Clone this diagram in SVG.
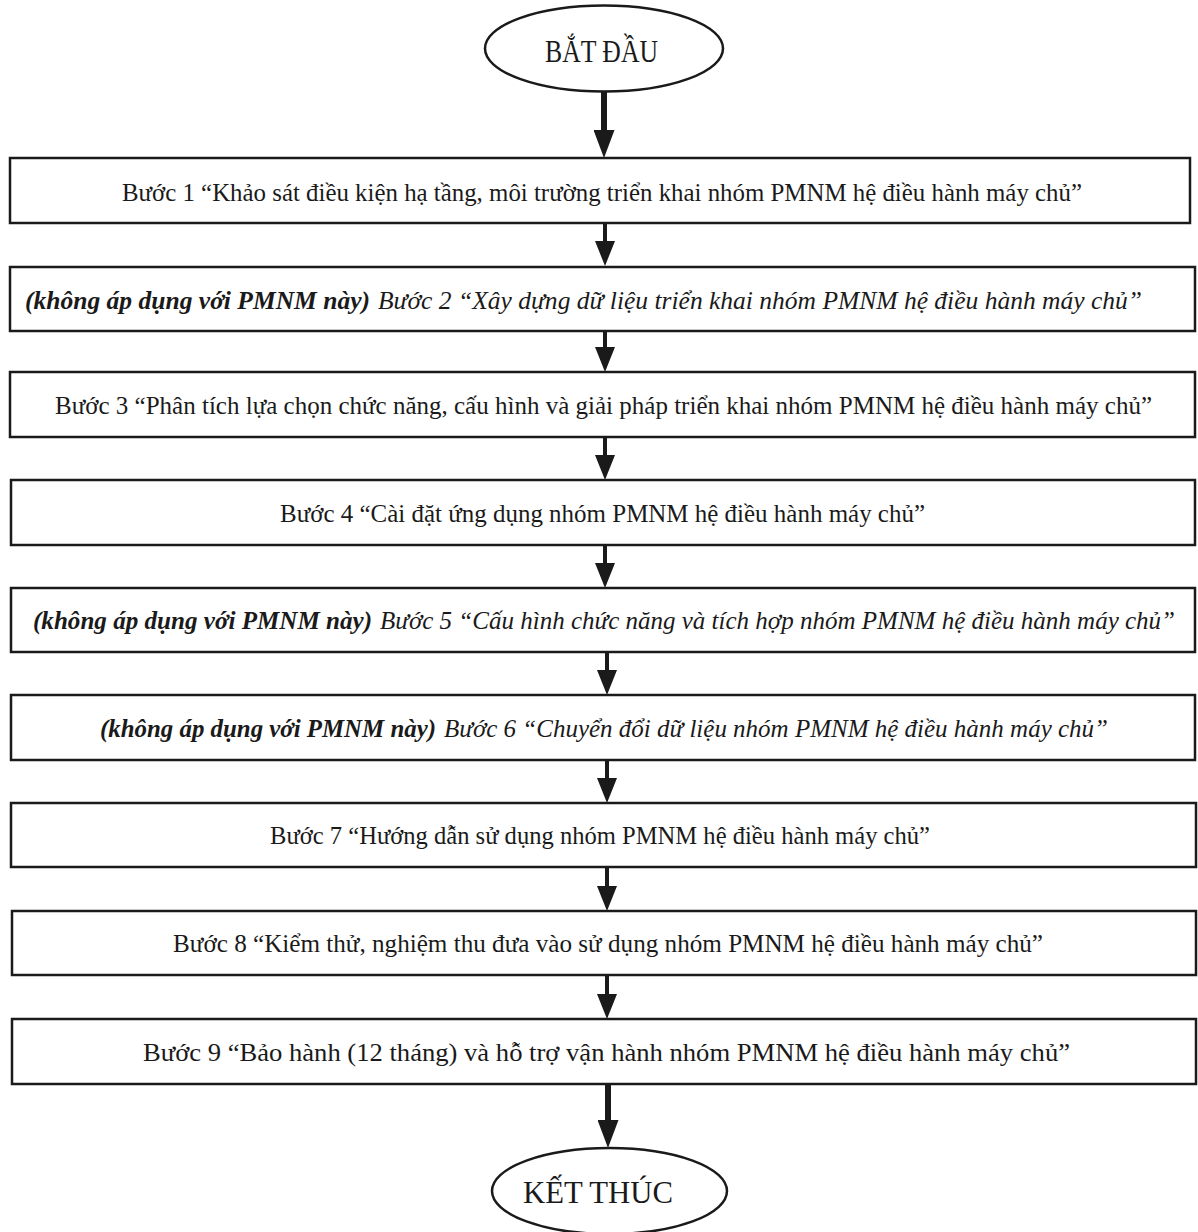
<svg xmlns="http://www.w3.org/2000/svg" width="1198" height="1232" viewBox="0 0 1198 1232">
  <style>
    .box { fill: #ffffff; stroke: #1a1a1a; stroke-width: 2.5; }
    .term { fill: #ffffff; stroke: #1a1a1a; stroke-width: 2.5; }
    .t { font-family: "Liberation Serif", "Times New Roman", serif; font-size: 26px; fill: #1a1a1a; }
    .ti { font-family: "Liberation Serif", "Times New Roman", serif; font-size: 26px; font-style: italic; fill: #1a1a1a; }
    .b { font-weight: bold; font-size: 25px; }
    .s25 { font-size: 25px; }
    .tt { font-family: "Liberation Serif", "Times New Roman", serif; font-size: 32px; fill: #1a1a1a; }
    .conn { stroke: #1a1a1a; stroke-width: 4; fill: none; }
    .connBig { stroke: #1a1a1a; stroke-width: 6; fill: none; }
  </style>
  <defs>
    <marker id="ah" viewBox="0 0 25 20" refX="0" refY="10" markerWidth="25" markerHeight="20" markerUnits="userSpaceOnUse" orient="auto">
      <path d="M0,0 L25,10 L0,20 Z" fill="#1a1a1a"/>
    </marker>
    <marker id="ahBig" viewBox="0 0 28 21" refX="0" refY="10.5" markerWidth="28" markerHeight="21" markerUnits="userSpaceOnUse" orient="auto">
      <path d="M0,0 L28,10.5 L0,21 Z" fill="#1a1a1a"/>
    </marker>
  </defs>

  <g id="connectors">
    <line class="connBig" x1="604" y1="92" x2="604" y2="130" marker-end="url(#ahBig)"/>
    <line class="conn" x1="605" y1="223" x2="605" y2="241" marker-end="url(#ah)"/>
    <line class="conn" x1="605" y1="331" x2="605" y2="347" marker-end="url(#ah)"/>
    <line class="conn" x1="605" y1="437" x2="605" y2="455" marker-end="url(#ah)"/>
    <line class="conn" x1="605" y1="545" x2="605" y2="563" marker-end="url(#ah)"/>
    <line class="conn" x1="607" y1="652" x2="607" y2="670" marker-end="url(#ah)"/>
    <line class="conn" x1="607" y1="760" x2="607" y2="778" marker-end="url(#ah)"/>
    <line class="conn" x1="607" y1="867" x2="607" y2="886" marker-end="url(#ah)"/>
    <line class="conn" x1="607" y1="975" x2="607" y2="994" marker-end="url(#ah)"/>
    <line class="connBig" x1="608" y1="1084" x2="608" y2="1120" marker-end="url(#ahBig)"/>
  </g>

  <g id="start">
    <ellipse class="term" cx="604" cy="48.5" rx="119" ry="43"/>
    <text class="tt" x="545" y="62" textLength="113" lengthAdjust="spacingAndGlyphs">BẮT ĐẦU</text>
  </g>

  <g id="step1">
    <rect class="box" x="10" y="158" width="1180" height="65"/>
    <text class="t" x="122" y="201" textLength="960" lengthAdjust="spacingAndGlyphs">Bước 1 “Khảo sát điều kiện hạ tầng, môi trường triển khai nhóm PMNM hệ điều hành máy chủ”</text>
  </g>

  <g id="step2">
    <rect class="box" x="10" y="267" width="1185" height="64"/>
    <text class="ti b" x="25" y="309" textLength="345" lengthAdjust="spacingAndGlyphs">(không áp dụng với PMNM này)</text>
    <text class="ti" x="378" y="309" textLength="764" lengthAdjust="spacingAndGlyphs">Bước 2 “Xây dựng dữ liệu triển khai nhóm PMNM hệ điều hành máy chủ”</text>
  </g>

  <g id="step3">
    <rect class="box" x="10" y="372" width="1185" height="65"/>
    <text class="t" x="55" y="414" textLength="1097" lengthAdjust="spacingAndGlyphs">Bước 3 “Phân tích lựa chọn chức năng, cấu hình và giải pháp triển khai nhóm PMNM hệ điều hành máy chủ”</text>
  </g>

  <g id="step4">
    <rect class="box" x="11" y="480" width="1184" height="65"/>
    <text class="t" x="280" y="522" textLength="645" lengthAdjust="spacingAndGlyphs">Bước 4 “Cài đặt ứng dụng nhóm PMNM hệ điều hành máy chủ”</text>
  </g>

  <g id="step5">
    <rect class="box" x="11" y="588" width="1184" height="64"/>
    <text class="ti b" x="33" y="629" textLength="339" lengthAdjust="spacingAndGlyphs">(không áp dụng với PMNM này)</text>
    <text class="ti s25" x="380" y="629" textLength="795" lengthAdjust="spacingAndGlyphs">Bước 5 “Cấu hình chức năng và tích hợp nhóm PMNM hệ điều hành máy chủ”</text>
  </g>

  <g id="step6">
    <rect class="box" x="11" y="695" width="1184" height="65"/>
    <text class="ti b" x="100" y="737" textLength="336" lengthAdjust="spacingAndGlyphs">(không áp dụng với PMNM này)</text>
    <text class="ti" x="444" y="737" textLength="664" lengthAdjust="spacingAndGlyphs">Bước 6 “Chuyển đổi dữ liệu nhóm PMNM hệ điều hành máy chủ”</text>
  </g>

  <g id="step7">
    <rect class="box" x="11" y="803" width="1185" height="64"/>
    <text class="t" x="270" y="844" textLength="660" lengthAdjust="spacingAndGlyphs">Bước 7 “Hướng dẫn sử dụng nhóm PMNM hệ điều hành máy chủ”</text>
  </g>

  <g id="step8">
    <rect class="box" x="12" y="911" width="1184" height="64"/>
    <text class="t" x="173" y="952" textLength="870" lengthAdjust="spacingAndGlyphs">Bước 8 “Kiểm thử, nghiệm thu đưa vào sử dụng nhóm PMNM hệ điều hành máy chủ”</text>
  </g>

  <g id="step9">
    <rect class="box" x="12" y="1019" width="1184" height="65"/>
    <text class="t" x="143" y="1061" textLength="927" lengthAdjust="spacingAndGlyphs">Bước 9 “Bảo hành (12 tháng) và hỗ trợ vận hành nhóm PMNM hệ điều hành máy chủ”</text>
  </g>

  <g id="end">
    <ellipse class="term" cx="609.5" cy="1191" rx="117.5" ry="43"/>
    <text class="tt" x="523" y="1203" textLength="150" lengthAdjust="spacingAndGlyphs">KẾT THÚC</text>
  </g>
</svg>
